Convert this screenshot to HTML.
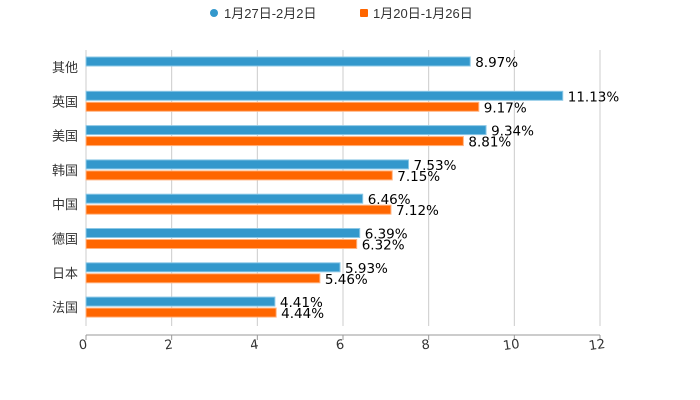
<!DOCTYPE html>
<html><head><meta charset="utf-8"><style>
body{margin:0;background:#fff;}
svg{display:block;font-family:"Liberation Sans","Noto Sans CJK SC",sans-serif;}
.dv{font-family:"DejaVu Sans","Noto Sans CJK SC",sans-serif;}
</style></head><body>
<svg id="chart" width="700" height="400">
<g id="legend">
<circle cx="214" cy="13" r="4" fill="#3398cc"/>
<text x="224" y="18" font-size="13" fill="#333">1月27日-2月2日</text>
<rect x="360" y="9" width="8" height="8" rx="1" fill="#ff6600"/>
<text x="373" y="18" font-size="13" fill="#333">1月20日-1月26日</text>
</g>
<g id="grid"></g><g id="bars"></g><g id="axis"></g>
</svg>
<script>
const categories=["其他","英国","美国","韩国","中国","德国","日本","法国"];
const seriesA=[8.97,11.13,9.34,7.53,6.46,6.39,5.93,4.41];
const seriesB=[null,9.17,8.81,7.15,7.12,6.32,5.46,4.44];
const ticks=[0,2,4,6,8,10,12];
const NS="http://www.w3.org/2000/svg";
const x=v=>86+v*(514/12);
const yc=i=>67+i*34.3;
function mk(tag,attrs,parent){const e=document.createElementNS(NS,tag);for(const k in attrs)e.setAttribute(k,attrs[k]);parent.appendChild(e);return e;}
const grid=document.getElementById('grid'),bars=document.getElementById('bars'),axis=document.getElementById('axis');
ticks.forEach(t=>{
 const g=mk('line',{x1:x(t),x2:x(t),y1:50,y2:326,stroke:'#ccc','stroke-width':1},grid);
 
 
 const tk=mk('line',{x1:x(t),x2:x(t),y1:335,y2:340,stroke:'#999'},axis);
 
 
 const tl=mk('text',{class:'dv',x:x(t)-3,y:349,'font-size':13,fill:'#333','text-anchor':'middle',transform:`rotate(-8 ${x(t)-3} 345)`},axis);
 tl.textContent=t;
 
 
});
const ax=mk('line',{x1:86,x2:600,y1:335,y2:335,stroke:'#999'},axis);


categories.forEach((c,i)=>{
 const cl=mk('text',{x:78,y:yc(i)+5,'font-size':13,fill:'#333','text-anchor':'end'},axis);
 cl.textContent=c;
 
 
 [[seriesA[i],'#3398cc','#8cc8e6',-10],[seriesB[i],'#ff6600','#ffb380',1]].forEach(([v,col,bd,off],s)=>{
  if(v==null)return;
  const r=mk('rect',{x:86,y:yc(i)+off,width:x(v)-86,height:9,fill:col,stroke:bd,'stroke-width':1},bars);
  
  
  const t=mk('text',{class:'dv',x:x(v)+5,y:yc(i)+off+10,'font-size':13.5,fill:'#000'},bars);
  t.textContent=v.toFixed(2)+'%';
  
  
 });
});
</script>
</body></html>
